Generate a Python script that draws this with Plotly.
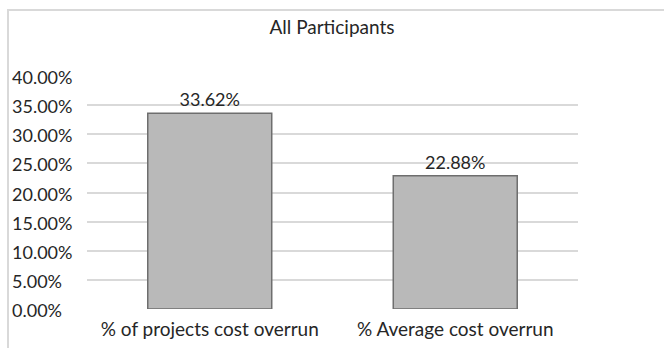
import plotly.graph_objects as go

# Chart data
categories = ["% of projects cost overrun", "% Average cost overrun"]
values = [33.62, 22.88]
tick_values = [0, 5, 10, 15, 20, 25, 30, 35, 40]
tick_labels = [f"{v:.2f}%" for v in tick_values]
title_text = "All Participants"

FONT = "Lato, Calibri, Carlito, sans-serif"
TEXT_COLOR = "#262626"

W, H = 664, 348
L, R, T, B = 87, 86, 76, 39
plot_w = W - L - R
plot_h = H - T - B

fig = go.Figure()
fig.add_trace(go.Bar(
    x=categories,
    y=values,
    width=0.505,
    marker=dict(color="#b9b9b9", line=dict(color="#6e6e6e", width=1.5)),
    texttemplate="%{y:.2f}%",
    textposition="outside",
    textfont=dict(family=FONT, size=18, color=TEXT_COLOR),
    cliponaxis=False,
    hoverinfo="skip",
))

# Left-aligned value axis labels
for v, lab in zip(tick_values, tick_labels):
    fig.add_annotation(
        x=(10 - L) / plot_w, xref="paper", xanchor="left",
        y=v, yref="y", yanchor="middle", yshift=-1,
        text=lab, showarrow=False,
        font=dict(family=FONT, size=18, color=TEXT_COLOR),
    )

# Chart area frame (left and top edges)
fig.add_shape(
    type="rect", xref="paper", yref="paper",
    x0=(8 - L) / plot_w, x1=(W + 20 - L) / plot_w,
    y0=-(40 + B) / plot_h, y1=(H - B - 10) / plot_h,
    line=dict(color="#d9d9d9", width=2), fillcolor="rgba(0,0,0,0)",
    layer="below",
)

fig.update_layout(
    width=W, height=H,
    margin=dict(l=L, r=R, t=T, b=B, autoexpand=False),
    paper_bgcolor="white", plot_bgcolor="white",
    showlegend=False,
    bargap=0.495,
    title=dict(
        text=title_text, x=0.5, xanchor="center",
        y=1 - 27 / H, yanchor="middle", yref="container",
        font=dict(family=FONT, size=19, color=TEXT_COLOR),
    ),
    xaxis=dict(
        showgrid=False, showline=False, zeroline=False, automargin=False,
        tickfont=dict(family=FONT, size=19, color=TEXT_COLOR),
        ticks="", ticklabelstandoff=7,
    ),
    yaxis=dict(
        range=[0, 40], tickvals=tick_values, showticklabels=False,
        showgrid=True, gridcolor="#d9d9d9", gridwidth=1.5,
        zeroline=False, showline=False, automargin=False,
    ),
)

fig.write_html("out.html")
